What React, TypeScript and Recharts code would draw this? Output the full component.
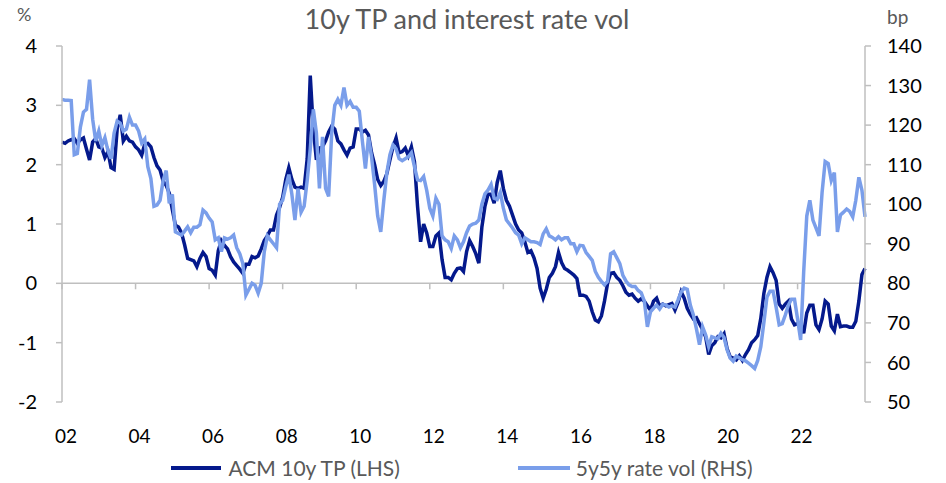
import { LineChart, Line, XAxis, YAxis, ReferenceLine, Legend } from "recharts";

const START_YEAR = 2002;
const yearTicks = [2002, 2004, 2006, 2008, 2010, 2012, 2014, 2016, 2018, 2020, 2022];
const leftTicks = [-2, -1, 0, 1, 2, 3, 4];
const rightTicks = [50, 60, 70, 80, 90, 100, 110, 120, 130, 140];

// monthly, Jan 2002 onwards
const acmTp = [
  2.38, 2.36, 2.4, 2.42, 2.44, 2.36, 2.42, 2.45, 2.26, 2.08, 2.38, 2.44,
  2.3, 2.28, 2.12, 2.22, 1.95, 1.92, 2.6, 2.84, 2.4, 2.48, 2.4, 2.38,
  2.3, 2.25, 2.16, 2.35, 2.36, 2.3, 2.12, 1.98, 1.91, 1.72, 1.65, 1.52,
  1.24, 0.98, 0.95, 0.85, 0.65, 0.42, 0.4, 0.38, 0.28, 0.42, 0.52, 0.45,
  0.25, 0.22, 0.14, 0.55, 0.72, 0.64, 0.58, 0.45, 0.36, 0.3, 0.24, 0.17,
  0.32, 0.32, 0.45, 0.43, 0.46, 0.58, 0.72, 0.8, 0.9, 0.9, 1.15, 1.28,
  1.45, 1.75, 1.95, 1.75, 1.62, 1.6, 1.62, 1.6, 2.1, 3.5, 2.6, 2.08,
  2.28, 2.3, 2.4, 2.55, 2.65, 2.6, 2.4, 2.35, 2.25, 2.16, 2.28, 2.3,
  2.6, 2.6, 2.55, 2.58, 2.5, 2.2, 2.0, 1.75, 1.65, 1.72, 1.85, 2.08,
  2.3, 2.45, 2.2, 2.22, 2.28, 2.15, 2.3, 2.05, 1.3, 0.7, 1.0, 0.85,
  0.62, 0.62, 0.8, 0.85, 0.4, 0.1, 0.1, 0.06, 0.17, 0.25, 0.26, 0.2,
  0.53, 0.72, 0.62, 0.5, 0.34, 0.95, 1.3, 1.5, 1.5, 1.35, 1.7, 1.9,
  1.6, 1.4, 1.3, 1.15, 1.0, 0.9, 0.85, 0.7, 0.52, 0.55, 0.43, 0.25,
  -0.08, -0.25, -0.1, 0.1, 0.17, 0.28, 0.52, 0.35, 0.25, 0.22, 0.18, 0.14,
  0.08, -0.2, -0.2, -0.22, -0.3, -0.48, -0.62, -0.65, -0.55, -0.3, 0.0, 0.17,
  0.18, 0.1, 0.05, -0.04, -0.15, -0.2, -0.18, -0.25, -0.3, -0.26, -0.3, -0.38,
  -0.45, -0.3, -0.25, -0.39, -0.35, -0.38, -0.36, -0.34, -0.45, -0.32, -0.14, -0.25,
  -0.42, -0.52, -0.6, -0.58, -0.68, -0.78, -0.9, -1.2, -1.05, -1.0, -0.9, -0.92,
  -0.85, -1.1, -1.24, -1.26, -1.29, -1.22, -1.3, -1.2, -1.12, -1.0, -0.95, -0.88,
  -0.59, -0.17, 0.1, 0.28, 0.18, 0.05, -0.35, -0.42, -0.35, -0.3, -0.6, -0.7,
  -0.68, -0.68, -0.84, -0.5, -0.37, -0.37, -0.7, -0.78, -0.6, -0.3, -0.35, -0.72,
  -0.8, -0.52, -0.73, -0.72, -0.72, -0.74, -0.74, -0.64, -0.3, 0.15, 0.25,
];

const rateVol = [
  126.5, 126.3, 126.3, 126.2, 112.5, 112.8, 119.5, 123.3, 124, 131.5, 121.5, 116,
  118.5, 114.8, 116.8, 113.5, 111.5, 118, 121, 120.5, 118.5, 119, 122, 120,
  120, 118.5, 115.5, 116.5, 109.5, 106.5, 99.5, 99.8, 101, 106, 108.5, 100.2,
  102.5, 93, 92.6, 92.2, 93.2, 94.3, 92.8, 94.2, 94.2, 94.8, 98.5, 97.8,
  96.5, 95.5, 91, 91.5, 88, 91.5, 91.2, 91.5, 92.2, 89, 87.5, 85,
  77, 78.5, 80, 79.5, 77.5, 80, 88, 92, 91, 90, 89, 100,
  101, 104.4, 107.5, 102.5, 96, 104, 98, 99.5, 106, 114, 124, 118,
  104, 117, 104, 102, 118, 125, 126.5, 125, 129.5, 125, 126, 124.5,
  124.5, 123.5, 116, 109, 117, 112, 105, 97, 93, 101, 108, 112.5,
  115, 114, 111.5, 111, 111.5, 112, 113, 109.5, 106.2, 106, 107, 103.5,
  99, 97, 101.5, 100, 92, 91, 90.5, 88.8, 92, 91, 89, 90.5,
  92.8, 94.5, 95, 95.2, 96, 100, 102.6, 103.6, 105, 101.5, 101.2, 103,
  99, 96, 95, 94, 92.8, 92.2, 90, 91.5, 91, 90.5, 90.5, 90.3,
  89.8, 92.5, 93.8, 92, 91.6, 91, 91.8, 91, 91.5, 91.5, 90, 90,
  88, 89.6, 89.5, 87.8, 86.8, 85.8, 83, 81.5, 80.5, 79.6, 80.5, 87.5,
  88, 86.5, 85, 82, 80.6, 79.6, 79.2, 79.2, 78.2, 77.6, 75.5, 69,
  72.8, 73.7, 74.5, 73.5, 74.7, 74.5, 74, 74.3, 74, 75.8, 77.8, 78.8,
  78.5, 74.5, 72, 68.5, 64.5, 69, 67, 64, 66.5, 66.2, 66, 67.4,
  66.3, 63.2, 61.1, 60.3, 61.6, 61.2, 60.7, 60.4, 59.8, 59.2, 58.5, 60.5,
  64, 70, 76.5, 78, 78, 74, 69.5, 69.8, 72, 74.5, 76, 76,
  71, 65.7, 83, 97, 101, 96, 94, 92, 103, 110.8, 110.3, 106,
  108, 93, 97.3, 98, 98.8, 98.2, 96.8, 101, 106.8, 103.5, 96.8,
];

const DARK = "#04198c";
const LIGHT = "#7a9eea";
const GRID = "#bfbfbf";
const FONT = "Lato, 'Open Sans', sans-serif";

const data = acmTp.map((tp, i) => ({ t: START_YEAR + i / 12, tp, vol: rateVol[i] }));

const LegendBox = () => (
  <div style={{ display: "flex", justifyContent: "center", gap: 118, height: 31, alignItems: "center", fontFamily: FONT, fontSize: 21, color: "#595959", paddingRight: 22 }}>
    <div style={{ display: "flex", alignItems: "center" }}>
      <span style={{ display: "inline-block", width: 50, height: 4, background: DARK, marginRight: 7 }} />
      ACM 10y TP (LHS)
    </div>
    <div style={{ display: "flex", alignItems: "center" }}>
      <span style={{ display: "inline-block", width: 52, height: 4, background: LIGHT, marginRight: 6 }} />
      5y5y rate vol (RHS)
    </div>
  </div>
);

export default function App() {
  return (
    <div style={{ position: "absolute", left: 0, top: 0, width: 946, height: 483, background: "#fff", fontFamily: FONT }}>
      <div style={{ position: "absolute", left: 0, width: 934, top: 2, textAlign: "center", fontSize: 27, color: "#595959" }}>
        10y TP and interest rate vol
      </div>
      <div style={{ position: "absolute", left: 17, top: 3, fontSize: 18, color: "#595959" }}>%</div>
      <div style={{ position: "absolute", left: 887, top: 5, fontSize: 19, color: "#595959" }}>bp</div>
      <LineChart width={946} height={483} data={data} margin={{ top: 46, right: 0, bottom: 0, left: 0 }}>
        <XAxis
          dataKey="t"
          type="number"
          domain={[START_YEAR, "dataMax"]}
          ticks={yearTicks}
          tickFormatter={(v: number) => String(v % 100).padStart(2, "0")}
          axisLine={false}
          tickLine={false}
          height={50}
          tickMargin={22}
          tick={{ fill: "#000", fontSize: 19, fontFamily: FONT, dx: 4 }}
          interval={0}
        />
        <YAxis
          yAxisId="left"
          orientation="left"
          domain={[-2, 4]}
          ticks={leftTicks}
          width={62}
          axisLine={{ stroke: GRID, strokeWidth: 1.5 }}
          tickLine={{ stroke: GRID, strokeWidth: 1.5 }}
          tickSize={6}
          tickMargin={19}
          tick={{ fill: "#000", fontSize: 20, fontFamily: FONT }}
          interval={0}
        />
        <YAxis
          yAxisId="right"
          orientation="right"
          domain={[50, 140]}
          ticks={rightTicks}
          width={81}
          axisLine={{ stroke: GRID, strokeWidth: 1.5 }}
          tickLine={{ stroke: GRID, strokeWidth: 1.5 }}
          tickSize={6}
          tickMargin={16}
          tick={{ fill: "#000", fontSize: 20, fontFamily: FONT }}
          interval={0}
        />
        <ReferenceLine yAxisId="left" y={0} stroke={GRID} strokeWidth={1.5} />
        {yearTicks.map((yr) => (
          <ReferenceLine
            key={yr}
            yAxisId="left"
            segment={[{ x: yr, y: 0 }, { x: yr, y: -0.1 }]}
            stroke={GRID}
            strokeWidth={1.5}
          />
        ))}
        <Legend verticalAlign="bottom" height={31} content={<LegendBox />} />
        <Line yAxisId="left" type="linear" dataKey="tp" stroke={DARK} strokeWidth={3.5} dot={false} isAnimationActive={false} />
        <Line yAxisId="right" type="linear" dataKey="vol" stroke={LIGHT} strokeWidth={3.5} dot={false} isAnimationActive={false} />
      </LineChart>
    </div>
  );
}
